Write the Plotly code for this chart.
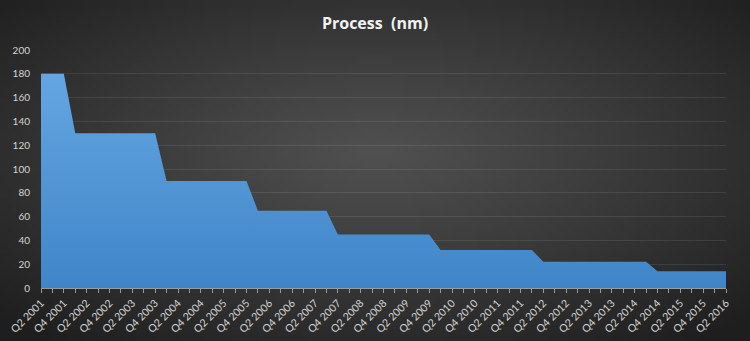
import base64
import math
import struct
import zlib

import plotly.graph_objects as go

quarters = [
    "Q2 2001", "Q3 2001", "Q4 2001", "Q1 2002", "Q2 2002", "Q3 2002", "Q4 2002",
    "Q1 2003", "Q2 2003", "Q3 2003", "Q4 2003", "Q1 2004", "Q2 2004", "Q3 2004",
    "Q4 2004", "Q1 2005", "Q2 2005", "Q3 2005", "Q4 2005", "Q1 2006", "Q2 2006",
    "Q3 2006", "Q4 2006", "Q1 2007", "Q2 2007", "Q3 2007", "Q4 2007", "Q1 2008",
    "Q2 2008", "Q3 2008", "Q4 2008", "Q1 2009", "Q2 2009", "Q3 2009", "Q4 2009",
    "Q1 2010", "Q2 2010", "Q3 2010", "Q4 2010", "Q1 2011", "Q2 2011", "Q3 2011",
    "Q4 2011", "Q1 2012", "Q2 2012", "Q3 2012", "Q4 2012", "Q1 2013", "Q2 2013",
    "Q3 2013", "Q4 2013", "Q1 2014", "Q2 2014", "Q3 2014", "Q4 2014", "Q1 2015",
    "Q2 2015", "Q3 2015", "Q4 2015", "Q1 2016", "Q2 2016",
]

process_nm = [
    180, 180, 180,
    130, 130, 130, 130, 130, 130, 130, 130,
    90, 90, 90, 90, 90, 90, 90, 90,
    65, 65, 65, 65, 65, 65, 65,
    45, 45, 45, 45, 45, 45, 45, 45, 45,
    32, 32, 32, 32, 32, 32, 32, 32, 32,
    22, 22, 22, 22, 22, 22, 22, 22, 22, 22,
    14, 14, 14, 14, 14, 14, 14,
]

y_ticks = [0, 20, 40, 60, 80, 100, 120, 140, 160, 180, 200]

# figure geometry
W, H = 750, 341
ML, MR, MT, MB = 41, 24, 50, 53


def radial_png(w, h, c_in, c_out, cx, cy):
    rows = []
    for j in range(h):
        row = bytearray([0])
        for i in range(w):
            dx = (i / (w - 1) - cx) / 0.5
            dy = (j / (h - 1) - cy) / 0.5
            d = min(1.0, math.sqrt(dx * dx + dy * dy) / math.sqrt(2))
            t = d ** 1.1
            for k in range(3):
                row.append(int(round(c_in[k] + (c_out[k] - c_in[k]) * t)))
        rows.append(bytes(row))
    raw = b"".join(rows)

    def chunk(tag, data):
        c = struct.pack(">I", len(data)) + tag + data
        return c + struct.pack(">I", zlib.crc32(tag + data) & 0xFFFFFFFF)

    png = b"\x89PNG\r\n\x1a\n"
    png += chunk(b"IHDR", struct.pack(">IIBBBBB", w, h, 8, 2, 0, 0, 0))
    png += chunk(b"IDAT", zlib.compress(raw, 9))
    png += chunk(b"IEND", b"")
    return "data:image/png;base64," + base64.b64encode(png).decode()


bg = radial_png(150, 68, (80, 80, 80), (30, 30, 30), 0.5, 0.45)

x_idx = list(range(len(quarters)))
tick_text = [q if i % 2 == 0 else "" for i, q in enumerate(quarters)]

fig = go.Figure()
fig.add_trace(
    go.Scatter(
        x=x_idx,
        y=process_nm,
        mode="lines",
        line=dict(width=0, color="#4a90d4"),
        fill="tozeroy",
        fillgradient=dict(
            type="vertical",
            colorscale=[[0, "#3f85c8"], [1, "#64a6e2"]],
        ),
        hoverinfo="x+y",
        showlegend=False,
    )
)

pw = W - ML - MR
ph = H - MT - MB

fig.update_layout(
    width=W,
    height=H,
    margin=dict(l=ML, r=MR, t=MT, b=MB, pad=0, autoexpand=False),
    paper_bgcolor="#363636",
    plot_bgcolor="rgba(0,0,0,0)",
    font=dict(family="Lato, 'Open Sans', sans-serif", color="#d4d4d4", size=10),
    title=dict(
        text="<b>Process\u00a0 (nm)</b>",
        x=0.5,
        xref="container",
        xanchor="center",
        y=1 - 23 / H,
        yref="container",
        yanchor="middle",
        automargin=False,
        font=dict(family="'Open Sans', Lato, sans-serif", size=16, color="#f2f2f2"),
    ),
    images=[
        dict(
            source=bg,
            xref="paper",
            yref="paper",
            x=-ML / pw,
            y=1 + MT / ph,
            sizex=W / pw,
            sizey=H / ph,
            xanchor="left",
            yanchor="top",
            sizing="stretch",
            layer="below",
        )
    ],
    xaxis=dict(
        range=[0, len(quarters) - 1],
        tickmode="array",
        tickvals=x_idx,
        ticktext=tick_text,
        tickangle=-45,
        ticks="outside",
        ticklen=4,
        tickcolor="#9a9a9a",
        tickwidth=1,
        showline=True,
        linecolor="#9a9a9a",
        linewidth=1,
        showgrid=False,
        zeroline=False,
        automargin=False,
        tickfont=dict(size=10.5, color="#d4d4d4"),
        fixedrange=True,
    ),
    yaxis=dict(
        range=[0, 200],
        tickmode="array",
        tickvals=y_ticks,
        ticktext=[str(v) for v in y_ticks],
        showgrid=True,
        gridcolor="rgba(255,255,255,0.09)",
        gridwidth=1,
        zeroline=False,
        showline=False,
        ticks="",
        ticklabelstandoff=10,
        automargin=False,
        tickfont=dict(size=10, color="#d4d4d4"),
        fixedrange=True,
    ),
)

fig.write_html("out.html")
